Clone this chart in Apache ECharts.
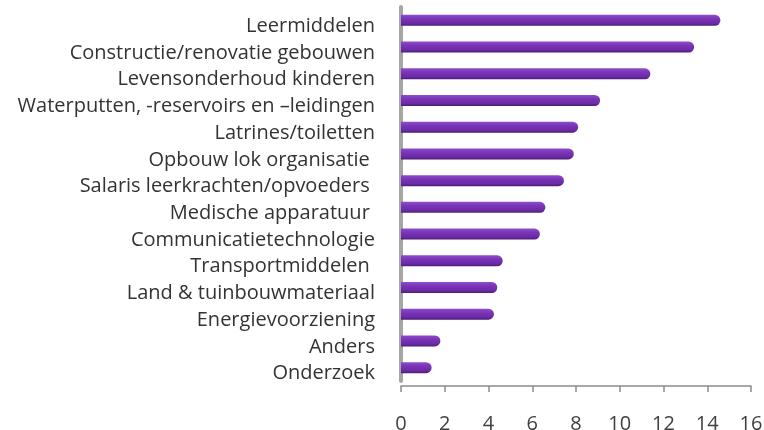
<!DOCTYPE html>
<html>
<head>
<meta charset="utf-8">
<script src="https://cdn.jsdelivr.net/npm/echarts@6/dist/echarts.min.js"></script>
<style>
  html, body { margin: 0; padding: 0; background: #fff; }
  #chart { width: 764px; height: 430px; }
</style>
</head>
<body>
<div id="chart"></div>
<script>
// categories top to bottom
const categories = [
  "Leermiddelen",
  "Constructie/renovatie gebouwen",
  "Levensonderhoud kinderen",
  "Waterputten, -reservoirs en \u2013leidingen",
  "Latrines/toiletten",
  "Opbouw lok organisatie ",
  "Salaris leerkrachten/opvoeders ",
  "Medische apparatuur ",
  "Communicatietechnologie",
  "Transportmiddelen ",
  "Land & tuinbouwmateriaal",
  "Energievoorziening",
  "Anders",
  "Onderzoek"
];
const values = [14.6, 13.4, 11.4, 9.1, 8.1, 7.9, 7.45, 6.6, 6.35, 4.65, 4.4, 4.25, 1.8, 1.4];
const xTicks = [0, 2, 4, 6, 8, 10, 12, 14, 16];

let chart = echarts.init(document.getElementById("chart"));
chart.setOption({
  animation: false,
  grid: {
    left: 401,
    right: 13,
    top: 7,
    bottom: 49,
    outerBoundsMode: "none"
  },
  xAxis: {
    type: "value",
    min: xTicks[0],
    max: xTicks[xTicks.length - 1],
    interval: 2,
    offset: 5,
    axisLine: { show: true, lineStyle: { color: "#8c8c8c", width: 1.5 } },
    axisTick: { show: true, length: 6, lineStyle: { color: "#8c8c8c", width: 1.5 } },
    axisLabel: {
      color: "#404040",
      fontFamily: "Open Sans",
      fontSize: 20,
      margin: 28
    },
    splitLine: { show: false }
  },
  yAxis: {
    type: "category",
    data: categories,
    inverse: true,
    axisLine: { show: true, lineStyle: { color: "#a6a6a6", width: 4 } },
    axisTick: { show: false },
    axisLabel: {
      margin: 26,
      // labels sit a little lower than the bars (3D front plane)
      formatter: function (v) { return "{a|" + v + "}"; },
      rich: {
        a: {
          color: "#333",
          fontFamily: "Open Sans",
          fontSize: 20,
          padding: [12, 0, 0, 0]
        }
      }
    }
  },
  series: [
    {
      type: "bar",
      data: values,
      barWidth: 11,
      itemStyle: {
        borderRadius: [0, 6, 6, 0],
        color: new echarts.graphic.LinearGradient(0, 0, 0, 1, [
          { offset: 0, color: "#8f4ccc" },
          { offset: 0.35, color: "#7a35b8" },
          { offset: 0.8, color: "#6a2aa2" },
          { offset: 1, color: "#4a1a75" }
        ])
      }
    }
  ]
});
</script>
</body>
</html>
